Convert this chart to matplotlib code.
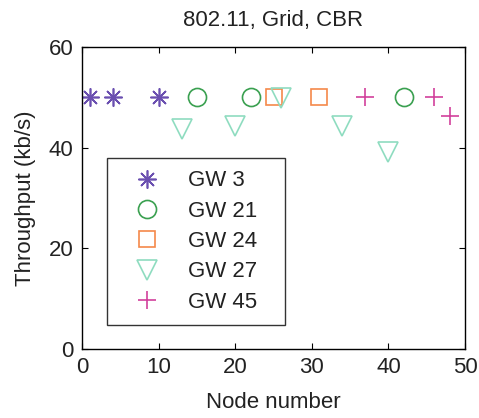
import numpy as np
import matplotlib
matplotlib.use("Agg")
import matplotlib.pyplot as plt

plt.rcParams['font.family'] = ['Liberation Sans', 'DejaVu Sans']
plt.rcParams['text.color'] = '#222222'
plt.rcParams['axes.labelcolor'] = '#222222'
plt.rcParams['xtick.labelcolor'] = '#222222'
plt.rcParams['ytick.labelcolor'] = '#222222'

# throughput per node, grouped by gateway
gw3_x = [1, 4, 10]
gw3_y = [50, 50, 50]
gw21_x = [15, 22, 42]
gw21_y = [50, 50, 50]
gw24_x = [25, 31]
gw24_y = [50, 50]
gw27_x = [13, 20, 26, 34, 40]
gw27_y = [43.7, 44.3, 49.8, 44.2, 39.2]
gw45_x = [37, 46, 48]
gw45_y = [50, 50, 46.3]

# 8-armed asterisk like the matlab '*'
star = (8, 2, 0)

series = [
    (gw3_x, gw3_y, star, 13, '#6a4fb0', 'GW 3'),
    (gw21_x, gw21_y, 'o', 13, '#3aa050', 'GW 21'),
    (gw24_x, gw24_y, 's', 12, '#f5894a', 'GW 24'),
    (gw27_x, gw27_y, 'v', 15, '#8fdcc0', 'GW 27'),
    (gw45_x, gw45_y, '+', 13, '#d2419c', 'GW 45'),
]

fig = plt.figure(figsize=(4.79, 4.18), dpi=100)
ax = fig.add_axes([0.171, 0.165, 0.800, 0.723])

for x, y, m, ms, c, lab in series:
    ax.plot(x, y, linestyle='none', marker=m, markersize=ms,
            markerfacecolor='none', markeredgecolor=c,
            markeredgewidth=1.2, label=lab)

ax.set_xlim(0, 50)
ax.set_ylim(0, 60)
ax.set_xticks([0, 10, 20, 30, 40, 50])
ax.set_yticks([0, 20, 40, 60])
ax.tick_params(direction='in', top=True, right=True, labelsize=16, length=4,
               pad=6)
for s in ax.spines.values():
    s.set_linewidth(1.0)

ax.set_title('802.11, Grid, CBR', fontsize=16, pad=15)
ax.set_xlabel('Node number', fontsize=16, labelpad=10)
ax.set_ylabel('Throughput (kb/s)', fontsize=16, labelpad=9)

# legend box stretched wider than its contents
leg = ax.legend(loc='lower left', bbox_to_anchor=(0.065, 0.0795, 0.465, 0.546),
                mode='expand', fontsize=16,
                frameon=True, fancybox=False, edgecolor='black',
                handlelength=2.5, handletextpad=0.6, borderpad=0.55,
                labelspacing=0.42, borderaxespad=0)
leg.get_frame().set_linewidth(1.0)

fig.savefig('out.png', dpi=100)
